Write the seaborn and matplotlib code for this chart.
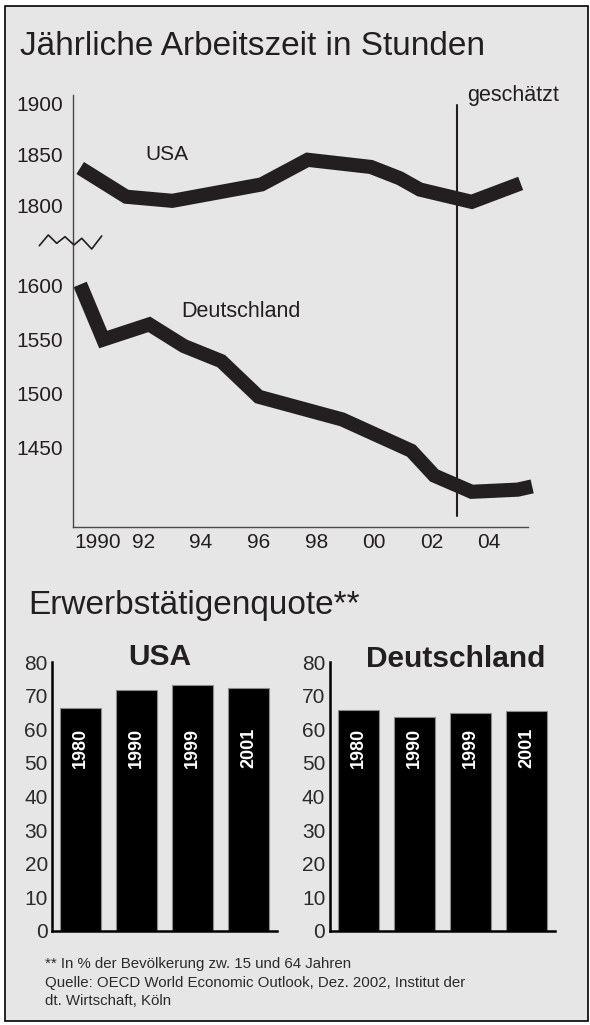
import matplotlib
matplotlib.use("Agg")
import matplotlib.pyplot as plt
from matplotlib.patches import Rectangle
from matplotlib.lines import Line2D
import matplotlib.transforms as mtransforms
import seaborn as sns
import pandas as pd

sns.set_theme(style="white")
plt.rcParams["font.family"] = ["Liberation Sans", "DejaVu Sans"]

# --- Jährliche Arbeitszeit (Stunden) ---------------------------------------
usa_years = [1989.8, 1991.4, 1993.0, 1996.1, 1997.7, 1999.9, 2000.9, 2001.6, 2003.4, 2005.1]
usa_hours = [1837, 1809, 1805, 1821, 1845, 1838, 1827, 1816, 1804, 1822]

de_years = [1989.8, 1990.6, 1992.2, 1993.4, 1994.7, 1996.0, 1998.9, 2001.3, 2002.1, 2003.4, 2005.0, 2005.5]
de_hours = [1601, 1550, 1564, 1544, 1530, 1497, 1476, 1447, 1424, 1409, 1411, 1414]

estimate_from = 2002.9

year_ticks = [1990, 1992, 1994, 1996, 1998, 2000, 2002, 2004]
year_labels = ["1990", "92", "94", "96", "98", "00", "02", "04"]
usa_ticks = [1800, 1850, 1900]
de_ticks = [1450, 1500, 1550, 1600]

# --- Erwerbstätigenquote (%) -----------------------------------------------
quote_years = ["1980", "1990", "1999", "2001"]
quote_usa = [66.3, 71.6, 73.2, 72.4]
quote_de = [65.7, 63.5, 64.7, 65.3]
quote_ticks = [0, 10, 20, 30, 40, 50, 60, 70, 80]

INK = "#231f20"
BG = "#e6e6e6"
W, H = 590, 1025

fig = plt.figure(figsize=(W / 100, H / 100), dpi=100, facecolor="white")


def box(left, top, right, bottom):
    return [left / W, 1 - bottom / H, (right - left) / W, (bottom - top) / H]


# frame of the whole graphic
fig.patches.append(Rectangle((5 / W, 1 - 1021 / H), 583 / W, 1015 / H,
                             transform=fig.transFigure, facecolor=BG,
                             edgecolor="black", linewidth=1.2, zorder=-10))

fig.text(20 / W, 1 - 55 / H, "Jährliche Arbeitszeit in Stunden",
         fontsize=24, color=INK, ha="left", va="baseline")
fig.text(28 / W, 1 - 614 / H, "Erwerbstätigenquote**",
         fontsize=24, color=INK, ha="left", va="baseline")

# --- line chart, split into two bands with a broken y axis -----------------
ax_top = fig.add_axes(box(73, 95, 528, 242))
ax_bot = fig.add_axes(box(73, 242, 528, 527))
xlim = (1989.55, 2005.355)

for ax in (ax_top, ax_bot):
    ax.set_facecolor("none")
    ax.set_xlim(*xlim)
    for s in ("top", "right"):
        ax.spines[s].set_visible(False)
    ax.spines["left"].set_color("#4a4a4a")
    ax.spines["left"].set_linewidth(1.0)
    ax.tick_params(length=0, labelsize=15, labelcolor=INK, pad=7)

ax_top.spines["bottom"].set_visible(False)
ax_top.set_ylim(1764.9, 1908.1)
ax_top.set_yticks(usa_ticks)
ax_top.set_xticks([])

ax_bot.set_ylim(1376.4, 1640.3)
ax_bot.set_yticks(de_ticks)
ax_bot.spines["bottom"].set_color("#4a4a4a")
ax_bot.spines["bottom"].set_linewidth(1.0)
ax_bot.set_xticks(year_ticks)
ax_bot.set_xticklabels(year_labels)
ax_bot.tick_params(axis="x", pad=4.5)
first = ax_bot.get_xticklabels()[0]
first.set_transform(first.get_transform() +
                    mtransforms.ScaledTranslation(11.5 / 100, 0, fig.dpi_scale_trans))

line_kw = dict(color=INK, linewidth=10.2, solid_joinstyle="miter",
               solid_capstyle="butt", sort=False, estimator=None, clip_on=False)
sns.lineplot(x=usa_years, y=usa_hours, ax=ax_top, **line_kw)
sns.lineplot(x=de_years, y=de_hours, ax=ax_bot, **line_kw)
for ax in (ax_top, ax_bot):
    ax.set_xlabel("")
    ax.set_ylabel("")

# start of the estimated period
ax_top.axvline(estimate_from, ymin=0, ymax=(242 - 105) / 147, color=INK, linewidth=1.5)
ax_bot.axvline(estimate_from, ymin=(527 - 516) / 285, ymax=1, color=INK, linewidth=1.5)
ax_top.text(2003.24, 1908.1, "geschätzt", fontsize=15.5, color=INK,
            ha="left", va="center", clip_on=False)

ax_top.text(1992.82, 1850.6, "USA", fontsize=15, color=INK, ha="center", va="center")
ax_bot.text(1995.4, 1575.7, "Deutschland", fontsize=15.5, color=INK, ha="center", va="center")

# axis break marker
zx = [39.3, 48.3, 56.7, 65.0, 74.0, 81.7, 91.7, 101.7]
zy = [245.7, 235.0, 243.3, 236.7, 245.0, 238.3, 249.0, 236.0]
fig.add_artist(Line2D([x / W for x in zx], [1 - y / H for y in zy],
                      transform=fig.transFigure, color=INK, linewidth=1.2))

# --- bar charts -----------------------------------------------------------
def quote_panel(rect, values, title, title_x, title_y):
    ax = fig.add_axes(rect)
    ax.set_facecolor("none")
    df = pd.DataFrame({"Jahr": quote_years, "Quote": values})
    sns.barplot(data=df, x="Jahr", y="Quote", ax=ax, color="black", saturation=1,
                width=0.73, edgecolor="#8c8c8c", linewidth=0.8)
    ax.set_ylim(0, 80)
    ax.set_xlim(-0.51, 3.51)
    ax.set_yticks(quote_ticks)
    ax.set_xticks([])
    ax.set_xlabel("")
    ax.set_ylabel("")
    for s in ("top", "right"):
        ax.spines[s].set_visible(False)
    for s in ("left", "bottom"):
        ax.spines[s].set_color("black")
        ax.spines[s].set_linewidth(1.8)
    ax.tick_params(length=0, labelsize=15, labelcolor="#2b2b2b", pad=3)
    for i, yr in enumerate(quote_years):
        ax.text(i, 54.5, yr, rotation=90, color="white", fontsize=13,
                fontweight="bold", ha="center", va="center")
    ax.text(title_x, title_y, title, transform=ax.transAxes, fontsize=21.5,
            fontweight="bold", color=INK, ha="center", va="baseline")
    return ax


quote_panel(box(52, 662, 277, 931), quote_usa, "USA", 0.478, 0.989)
quote_panel(box(329.5, 662, 555, 931), quote_de, "Deutschland", 0.559, 0.981)

foot = ["** In % der Bevölkerung zw. 15 und 64 Jahren",
        "Quelle: OECD World Economic Outlook, Dez. 2002, Institut der",
        "dt. Wirtschaft, Köln"]
for txt, base in zip(foot, [968, 986.5, 1005]):
    fig.text(45 / W, 1 - base / H, txt, fontsize=10.8,
             color="#2b2b2b", ha="left", va="baseline")

fig.savefig("out.png", dpi=100, facecolor="white")
